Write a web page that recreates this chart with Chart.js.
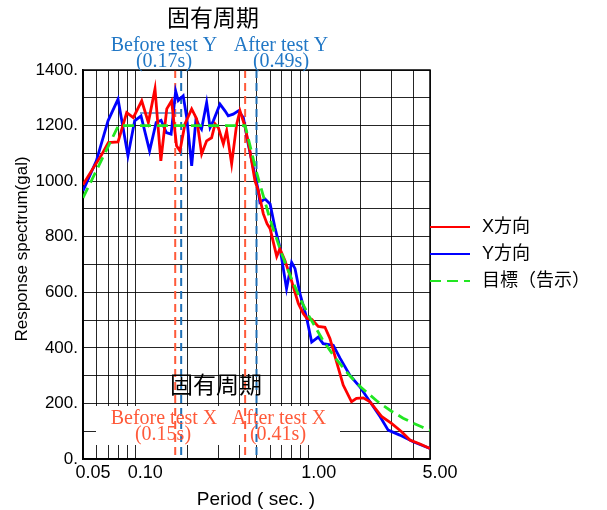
<!DOCTYPE html>
<html>
<head>
<meta charset="utf-8">
<script src="https://cdn.jsdelivr.net/npm/chart.js@4.4.1/dist/chart.umd.min.js"></script>
<style>
  body { margin: 0; background: #fff; }
  #wrap { width: 607px; height: 510px; }
</style>
</head>
<body>
<div id="wrap"><canvas id="spectrumChart" width="607" height="510"></canvas></div>
<script>
// X direction response spectrum (red)
var xDirPeriod = [0.050, 0.057, 0.0635, 0.070, 0.0796, 0.0893, 0.0975, 0.109, 0.119, 0.130, 0.1405, 0.152, 0.162, 0.173, 0.181,
  0.1935, 0.2115, 0.226, 0.2415, 0.258, 0.2755, 0.2885, 0.3015, 0.322, 0.3365, 0.3595, 0.3845, 0.4015, 0.43, 0.458, 0.49,
  0.512, 0.547, 0.575, 0.599, 0.654, 0.682, 0.729, 0.78, 0.834, 0.871, 0.93, 0.977, 1.04, 1.135, 1.24, 1.325, 1.45, 1.58,
  1.765, 1.885, 2.06, 2.255, 2.64, 3.0, 3.43, 3.83, 4.38, 5.0];
var xDirAccel = [987, 1045, 1091, 1139, 1141, 1247, 1229, 1289, 1211, 1332, 1073, 1260, 1289, 1127, 1109,
  1206, 1260, 1224, 1098, 1145, 1156, 1206, 1192, 1134, 1181, 1062, 1206, 1253, 1195, 1109, 1001,
  966, 883, 847, 829, 729, 757, 714, 660, 599, 560, 524, 506, 503, 477, 474, 434, 348, 266,
  206, 218, 220, 206, 152, 128, 98, 68, 54, 38];

// Y direction response spectrum (blue)
var yDirPeriod = [0.05, 0.0597, 0.0697, 0.0796, 0.0908, 0.0993, 0.108, 0.121, 0.132, 0.141, 0.151, 0.161, 0.171, 0.177,
  0.189, 0.198, 0.2115, 0.224, 0.234, 0.241, 0.258, 0.27, 0.282, 0.308, 0.329, 0.3435, 0.367, 0.393, 0.42, 0.448, 0.479,
  0.512, 0.523, 0.56, 0.599, 0.638, 0.682, 0.745, 0.797, 0.834, 0.89, 0.97, 1.04, 1.135, 1.21, 1.385, 1.515, 1.725,
  1.97, 2.255, 2.58, 2.87, 3.35, 4.0, 5.0];
var yDirAccel = [965, 1073, 1217, 1295, 1091, 1217, 1235, 1109, 1211, 1219, 1175, 1169, 1324, 1290,
  1307, 1229, 1055, 1223, 1199, 1187, 1283, 1193, 1217, 1277, 1253, 1235, 1241, 1253, 1229, 1133, 1049,
  966, 924, 936, 918, 834, 762, 613, 708, 685, 595, 511, 421, 439, 415, 409, 363, 302,
  260, 206, 152, 104, 86, 62, 38];

// target spectrum (green dashed)
var targetPeriod = [0.05, 0.08, 0.43, 0.5, 0.6, 0.7, 0.8, 0.9, 1.0, 1.2, 1.4, 1.7, 2.0, 2.5, 3.0, 3.5, 4.0, 4.5, 5.0];
var targetAccel = [940, 1200, 1200, 1032, 860, 737, 645, 573, 516, 430, 369, 304, 258, 206, 172, 147, 129, 115, 103];

// natural period markers (where the dashed lines sit in the figure)
var markerPeriodX = [0.170, 0.430];
var markerPeriodY = [0.184, 0.500];

var seriesNames = ['X方向', 'Y方向', '目標（告示）'];

var xTickValues = [0.05, 0.06, 0.07, 0.08, 0.09, 0.1, 0.2, 0.3, 0.4, 0.5, 0.6, 0.7, 0.8, 0.9, 1, 2, 3, 4, 5];
var xLabelValues = [0.05, 0.1, 1, 5];
var xLabelTexts = ['0.05', '0.10', '1.00', '5.00'];

function toPoints(px, py) {
  return px.map(function (t, i) { return { x: t, y: py[i] }; });
}

var SANS = "'Liberation Sans', 'Noto Sans CJK JP', sans-serif";
var CJK = "'Noto Sans CJK JP', sans-serif";
var SERIF = "'Liberation Serif', serif";
var RED_TXT = '#ff5a3a';
var BLUE_TXT = '#2278c6';
var GRID = 'rgba(0,0,0,0.85)';

function put(ctx, text, x, y, font, color, align, baseline) {
  ctx.font = font;
  ctx.fillStyle = color;
  ctx.textAlign = align || 'center';
  ctx.textBaseline = baseline || 'middle';
  ctx.fillText(text, x, y);
}

var overlay = {
  id: 'overlay',
  beforeDatasetsDraw: function (chart) {
    var ctx = chart.ctx, a = chart.chartArea;
    var xs = chart.scales.x, ys = chart.scales.y;
    ctx.save();
    // white panel behind the lower labels
    ctx.fillStyle = '#fff';
    ctx.fillRect(96, 406, 244, 39);

    // natural period dashed lines
    ctx.lineWidth = 2;
    ctx.setLineDash([8, 5]);
    markerPeriodX.forEach(function (t) {
      var px = xs.getPixelForValue(t);
      ctx.strokeStyle = RED_TXT;
      ctx.beginPath(); ctx.moveTo(px, a.top); ctx.lineTo(px, a.bottom); ctx.stroke();
    });
    markerPeriodY.forEach(function (t) {
      var px = xs.getPixelForValue(t);
      ctx.strokeStyle = '#1f6fb5';
      ctx.beginPath(); ctx.moveTo(px, a.top); ctx.lineTo(px, a.bottom); ctx.stroke();
    });

    // short leftover line in the figure
    ctx.setLineDash([]);
    ctx.strokeStyle = '#4a7ebb';
    ctx.lineWidth = 1.5;
    ctx.beginPath();
    ctx.moveTo(xs.getPixelForValue(0.1065), ys.getPixelForValue(1245));
    ctx.lineTo(xs.getPixelForValue(0.186), ys.getPixelForValue(1245));
    ctx.stroke();

    // plot frame
    ctx.strokeStyle = '#000';
    ctx.lineWidth = 1.5;
    ctx.strokeRect(a.left, a.top, a.right - a.left, a.bottom - a.top);
    ctx.restore();
  },
  afterDraw: function (chart) {
    var ctx = chart.ctx;
    ctx.save();
    // titles
    put(ctx, '固有周期', 213, 17, '23px ' + CJK, '#000');
    put(ctx, '固有周期', 216, 384, '23px ' + CJK, '#000');

    put(ctx, 'Before test Y', 164, 51, '20px ' + SERIF, BLUE_TXT, 'center', 'alphabetic');
    put(ctx, '(0.17s)', 164, 67, '20px ' + SERIF, BLUE_TXT, 'center', 'alphabetic');
    put(ctx, 'After test Y', 281, 51, '20px ' + SERIF, BLUE_TXT, 'center', 'alphabetic');
    put(ctx, '(0.49s)', 281, 67, '20px ' + SERIF, BLUE_TXT, 'center', 'alphabetic');

    put(ctx, 'Before test X', 164, 424, '20px ' + SERIF, RED_TXT, 'center', 'alphabetic');
    put(ctx, '(0.15s)', 163, 440, '20px ' + SERIF, RED_TXT, 'center', 'alphabetic');
    put(ctx, 'After test X', 279, 424, '20px ' + SERIF, RED_TXT, 'center', 'alphabetic');
    put(ctx, '(0.41s)', 278, 440, '20px ' + SERIF, RED_TXT, 'center', 'alphabetic');

    // axis titles
    put(ctx, 'Period ( sec. )', 256, 500, '19px ' + SANS, '#000');
    ctx.save();
    ctx.translate(22, 249);
    ctx.rotate(-Math.PI / 2);
    put(ctx, 'Response spectrum(gal)', 0, 0, '17px ' + SANS, '#000');
    ctx.restore();

    // legend
    var rows = [227, 254, 281];
    var colors = ['#ff0000', '#0000ff', '#22e622'];
    rows.forEach(function (ry, i) {
      ctx.strokeStyle = colors[i];
      ctx.lineWidth = 2;
      ctx.setLineDash(i === 2 ? [11, 6] : []);
      ctx.beginPath(); ctx.moveTo(430, ry); ctx.lineTo(470, ry); ctx.stroke();
      put(ctx, seriesNames[i], 482, ry, '18px ' + SANS, '#000', 'left', 'middle');
    });
    ctx.restore();
  }
};

var myChart = new Chart(document.getElementById('spectrumChart').getContext('2d'), {
  type: 'line',
  data: {
    datasets: [{
      label: seriesNames[0],
      data: toPoints(xDirPeriod, xDirAccel),
      borderColor: '#ff0000',
      borderWidth: 2.8,
      order: 1
    }, {
      label: seriesNames[1],
      data: toPoints(yDirPeriod, yDirAccel),
      borderColor: '#0000ff',
      borderWidth: 2.8,
      order: 2
    }, {
      label: seriesNames[2],
      data: toPoints(targetPeriod, targetAccel),
      borderColor: '#22e622',
      borderWidth: 2.8,
      borderDash: [11, 6],
      order: 0
    }]
  },
  options: {
    responsive: false,
    animation: false,
    events: [],
    layout: { padding: { top: 70, right: 177, bottom: 0, left: 0 } },
    elements: { point: { radius: 0 }, line: { tension: 0 } },
    plugins: { legend: { display: false }, tooltip: { enabled: false } },
    scales: {
      x: {
        type: 'logarithmic',
        min: 0.05,
        max: 5,
        afterBuildTicks: function (s) {
          s.ticks = xTickValues.map(function (v) { return { value: v }; });
        },
        afterFit: function (s) { s.height = 51; },
        grid: { color: GRID, lineWidth: 1, drawTicks: false },
        border: { color: '#000', width: 1.5 },
        ticks: {
          autoSkip: false,
          maxRotation: 0,
          padding: 3,
          labelOffset: 10,
          color: '#000',
          font: { family: SANS, size: 18 },
          callback: function (v) {
            var k = xLabelValues.indexOf(v);
            return k >= 0 ? xLabelTexts[k] : '';
          }
        }
      },
      y: {
        min: 0,
        max: 1400,
        afterFit: function (s) { s.width = 83; },
        grid: { color: GRID, lineWidth: 1, drawTicks: false },
        border: { color: '#000', width: 1.5 },
        ticks: {
          stepSize: 100,
          autoSkip: false,
          padding: 5,
          color: '#000',
          font: { family: SANS, size: 17 },
          callback: function (v) { return v % 200 === 0 ? v + '.' : ''; }
        }
      }
    }
  },
  plugins: [overlay]
});
</script>
</body>
</html>
